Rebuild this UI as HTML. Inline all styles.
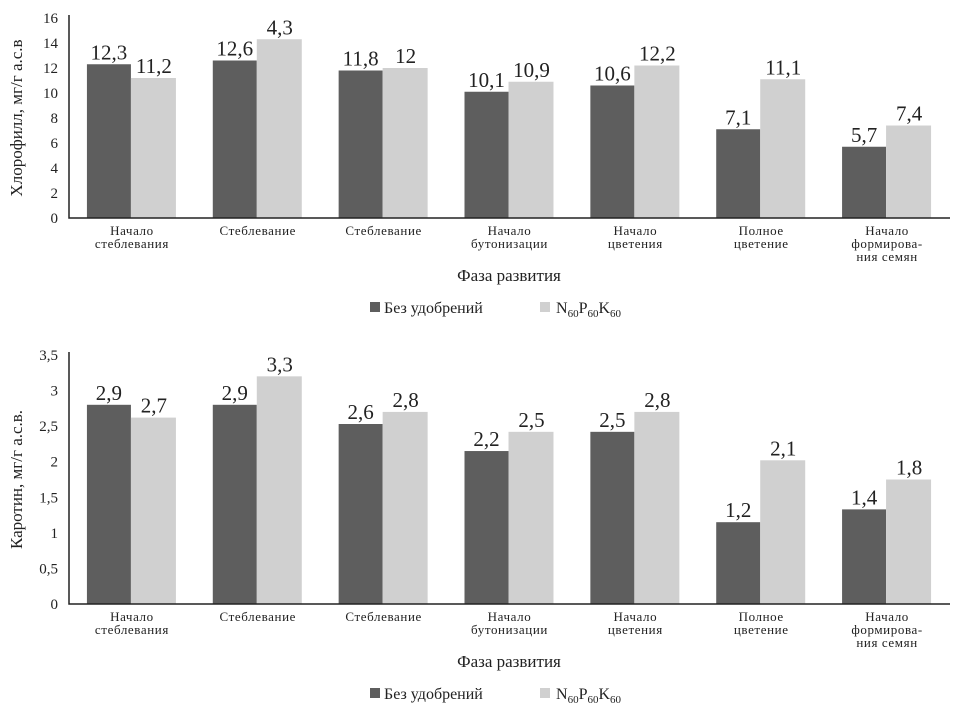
<!DOCTYPE html>
<html><head><meta charset="utf-8"><style>
body{margin:0;background:#fff;}
svg text{font-family:"Liberation Serif","DejaVu Serif",serif;fill:#222;}
</style></head><body>
<svg id="svg" width="956" height="714"></svg>
<script>
const categories=[["Начало","стеблевания"],["Стеблевание"],["Стеблевание"],["Начало","бутонизации"],["Начало","цветения"],["Полное","цветение"],["Начало","формирова-","ния семян"]];
const chlDark=[12.3,12.6,11.8,10.1,10.6,7.1,5.7];
const chlLight=[11.2,14.3,12,10.9,12.2,11.1,7.4];
const chlDarkLbl=["12,3","12,6","11,8","10,1","10,6","7,1","5,7"];
const chlLightLbl=["11,2","4,3","12","10,9","12,2","11,1","7,4"];
const chlTicks=[0,2,4,6,8,10,12,14,16];
const chlTickLbl=["0","2","4","6","8","10","12","14","16"];
const carDark=[2.8,2.8,2.53,2.15,2.42,1.15,1.33];
const carLight=[2.62,3.2,2.7,2.42,2.7,2.02,1.75];
const carDarkLbl=["2,9","2,9","2,6","2,2","2,5","1,2","1,4"];
const carLightLbl=["2,7","3,3","2,8","2,5","2,8","2,1","1,8"];
const carTicks=[0,0.5,1,1.5,2,2.5,3,3.5];
const carTickLbl=["0","0,5","1","1,5","2","2,5","3","3,5"];
const svg=document.getElementById('svg');
const NS='http://www.w3.org/2000/svg';
function mk(t,a,txt){const e=document.createElementNS(NS,t);for(const k in a)e.setAttribute(k,a[k]);if(txt!==undefined)e.textContent=txt;svg.appendChild(e);return e;}
function chart(o){
 const x0=69,x1=950,bw=(x1-x0)/7;
 const y=v=>o.base-(v/o.max)*(o.base-o.top);
 o.ticks.forEach((t,i)=>{const e=mk('text',{x:58,y:y(t)+5,'text-anchor':'end','font-size':15},o.tickLbl[i]);
 
 });
 categories.forEach((c,i)=>{
  const cx=x0+bw*(i+0.5);
  const r1=mk('rect',{x:cx-45,y:y(o.dark[i]),width:44,height:o.base-y(o.dark[i]),fill:'#5e5e5e'});
  
  
  const r2=mk('rect',{x:cx-1,y:y(o.light[i]),width:45,height:o.base-y(o.light[i]),fill:'#d0d0d0'});
  
  
  const l1=mk('text',{x:cx-23,y:y(o.dark[i])-5,'text-anchor':'middle','font-size':21},o.darkLbl[i]);
  
  
  const l2=mk('text',{x:cx+22,y:y(o.light[i])-5,'text-anchor':'middle','font-size':21},o.lightLbl[i]);
  
  
  c.forEach((s,j)=>{const t=mk('text',{x:cx,y:o.base+17+j*13,'text-anchor':'middle','font-size':13,'letter-spacing':0.6},s);
  
  });
 });
 const ax=mk('path',{d:`M${x0} ${o.top-3}V${o.base}H${x1}`,stroke:'#222','stroke-width':1.5,fill:'none'});
 
 
 const yt=mk('text',{x:0,y:0,'font-size':17,'text-anchor':'middle',transform:`translate(22,${(o.top+o.base)/2}) rotate(-90)`},o.ytitle);
 
 
 const xt=mk('text',{x:509,y:o.base+63,'font-size':17,'text-anchor':'middle'},'Фаза развития');
 
 
 const ly=o.base+95;
 const s1=mk('rect',{x:370,y:ly-11,width:10,height:10,fill:'#5e5e5e'});
 
 
 const t1=mk('text',{x:384,y:ly,'font-size':16},'Без удобрений');
 
 
 const s2=mk('rect',{x:540,y:ly-11,width:10,height:10,fill:'#d0d0d0'});
 
 
 const t2=mk('text',{x:556,y:ly,'font-size':16});
 t2.innerHTML='N<tspan font-size="11" dy="4">60</tspan><tspan dy="-4">P</tspan><tspan font-size="11" dy="4">60</tspan><tspan dy="-4">K</tspan><tspan font-size="11" dy="4">60</tspan>';
 
 
}
chart({base:218,top:18,max:16,ticks:chlTicks,tickLbl:chlTickLbl,dark:chlDark,light:chlLight,darkLbl:chlDarkLbl,lightLbl:chlLightLbl,ytitle:'Хлорофилл, мг/г а.с.в'});
chart({base:604,top:355,max:3.5,ticks:carTicks,tickLbl:carTickLbl,dark:carDark,light:carLight,darkLbl:carDarkLbl,lightLbl:carLightLbl,ytitle:'Каротин, мг/г а.с.в.'});
</script>
</body></html>
